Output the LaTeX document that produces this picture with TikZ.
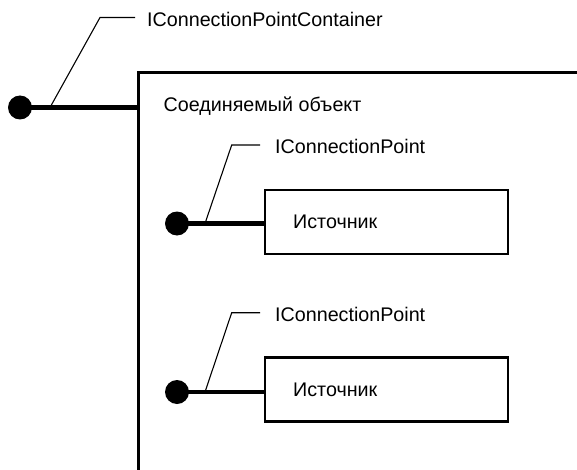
\documentclass[tikz,border=0pt]{standalone}
\usepackage{fontspec}
\setmainfont{Liberation Sans}
\begin{document}
\begin{tikzpicture}[x=1pt,y=-1pt,
  lbl/.style={font=\fontsize{19.7}{22}\selectfont, inner sep=0pt, anchor=base west},
  dot/.style={circle, fill=black, minimum size=24pt, inner sep=0pt},
  srcbox/.style={draw, line width=2.6pt, minimum width=243pt, minimum height=64pt, inner sep=0pt},
  stem/.style={line width=4.5pt},
  callout/.style={line width=1.1pt},
  frame/.style={line width=2.8pt}]
\useasboundingbox (0,0) rectangle (577,470);
% container object (open to the right and bottom)
\coordinate (objBL) at (138.5,472);
\coordinate (objTL) at (138.5,72.5);
\coordinate (objTR) at (579,72.5);
\coordinate (objL) at (138.5,107.5);
\draw[frame] (objBL) -- (objTL) -- (objTR);
\node[lbl] (objtxt) at (163.5,111.7) {Соединяемый объект};
% container lollipop
\node[dot] (d0) at (20,107.5) {};
\draw[stem] (d0.center) -- (objL);
\coordinate (c0a) at (50,107.5);
\coordinate (c0b) at (100,17.5);
\coordinate (c0c) at (135,17.5);
\draw[callout] (c0a) -- (c0b) -- (c0c);
\node[lbl] (t0) at (147,26.7) {IConnectionPointContainer};
% source 1
\node[srcbox] (s1) at (386.6,222) {};
\node[lbl] (s1t) at (293,228.3) {Источник};
\node[dot] (d1) at (177,223.5) {};
\draw[stem] (d1.center) -- (d1.center -| s1.west);
\coordinate (c1a) at (205,223.5);
\coordinate (c1b) at (231.7,145);
\coordinate (c1c) at (260,145);
\draw[callout] (c1a) -- (c1b) -- (c1c);
\node[lbl] (t1) at (275,154) {IConnectionPoint};
% source 2
\node[srcbox] (s2) at (386.6,389.2) {};
\node[lbl] (s2t) at (293,396) {Источник};
\node[dot] (d2) at (177,392) {};
\draw[stem] (d2.center) -- (d2.center -| s2.west);
\coordinate (c2a) at (205,392);
\coordinate (c2b) at (231.7,312.7);
\coordinate (c2c) at (260,312.7);
\draw[callout] (c2a) -- (c2b) -- (c2c);
\node[lbl] (t2) at (275,321.7) {IConnectionPoint};
\end{tikzpicture}
\end{document}
